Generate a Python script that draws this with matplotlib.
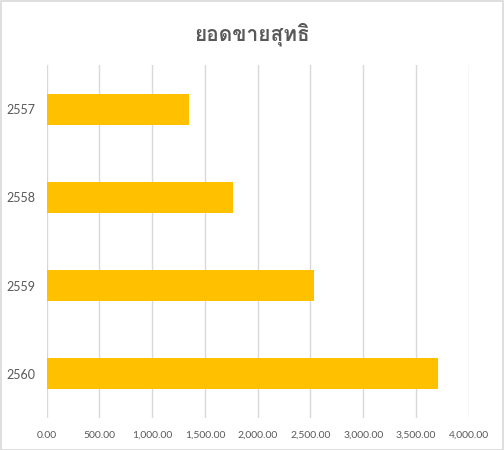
import matplotlib
matplotlib.use('Agg')
import matplotlib.pyplot as plt
from matplotlib import font_manager
from matplotlib.ft2font import FT2Font
from matplotlib.patches import Rectangle

# data
years = ['2557', '2558', '2559', '2560']
sales = [1349, 1763, 2531, 3706]
title = 'ยอดขายสุทธิ'
xticks = [0, 500, 1000, 1500, 2000, 2500, 3000, 3500, 4000]

# find a font that has Thai glyphs
thai_font = None
for f in font_manager.fontManager.ttflist:
    try:
        cmap = FT2Font(f.fname).get_charmap()
    except Exception:
        continue
    if all(ord(c) in cmap for c in title):
        thai_font = f.name
        break

fams = ['Lato', 'DejaVu Sans']
title_fams = ([thai_font] if thai_font else []) + ['DejaVu Sans']

fig = plt.figure(figsize=(5.04, 4.5), dpi=100)
ax = fig.add_axes([0.0927, 0.0711, 0.8373, 0.7844])

ypos = list(range(len(years)))
ax.barh(ypos, sales, height=0.35, color='#FFC000', zorder=3)
ax.set_ylim(len(years) - 0.5, -0.5)
ax.set_yticks(ypos)
ax.set_yticklabels(years, family=fams, fontsize=9, color='#595959')

ax.set_xlim(0, 4000)
ax.set_xticks(xticks)
ax.set_xticklabels(['{:,.2f}'.format(v) for v in xticks], family=fams,
                   fontsize=7.5, color='#595959')
ax.grid(axis='x', color='#D9D9D9', linewidth=1, zorder=0)
for s in ax.spines.values():
    s.set_visible(False)
ax.tick_params(length=0)
ax.tick_params(axis='y', pad=8.5)
ax.tick_params(axis='x', pad=9)

fig.text(0.5, 0.925, title, ha='center', va='center', family=title_fams,
         fontsize=15, fontweight='bold', color='#595959')

# chart border
fig.patches.append(Rectangle((0.001, 0.001), 0.997, 0.997, transform=fig.transFigure,
                             fill=False, edgecolor='#D9D9D9', linewidth=1.2))

fig.savefig('out.png', dpi=100)
